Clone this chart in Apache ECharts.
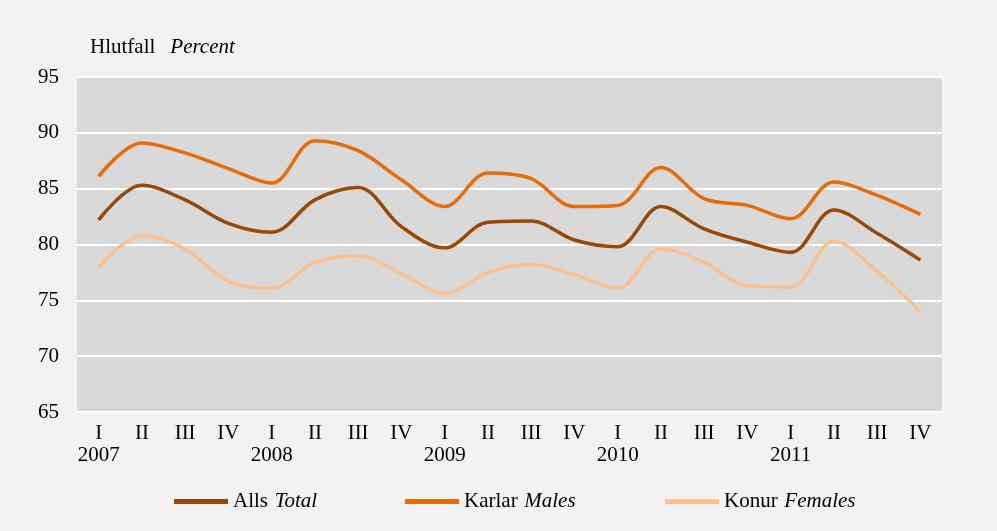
<!DOCTYPE html>
<html><head><meta charset="utf-8">
<script src="https://cdn.jsdelivr.net/npm/echarts@6/dist/echarts.min.js"></script>
<style>html,body{margin:0;padding:0;background:#fff}#c{width:997px;height:531px}</style>
</head><body><div id="c"></div>
<script>
const quarters = ['I','II','III','IV','I','II','III','IV','I','II','III','IV','I','II','III','IV','I','II','III','IV'];
const years = ['2007','','','','2008','','','','2009','','','','2010','','','','2011','','',''];
const total = [82.2,85.3,84.0,81.9,81.1,84.0,85.1,81.6,79.7,82.0,82.1,80.4,79.8,83.4,81.4,80.2,79.3,83.1,81.0,78.6];
const males = [86.1,89.1,88.2,86.8,85.5,89.3,88.4,85.8,83.4,86.4,85.9,83.4,83.5,86.9,84.1,83.5,82.3,85.6,84.4,82.7];
const females = [77.9,80.8,79.6,76.7,76.1,78.4,79.0,77.4,75.6,77.5,78.2,77.3,76.1,79.6,78.4,76.3,76.2,80.3,77.6,74.0];
const yTicks = [65,70,75,80,85,90,95];
const seriesNames = ['Alls Total','Karlar Males','Konur Females'];
const legendParts = [['Alls','Total'],['Karlar','Males'],['Konur','Females']];

const font = 'Liberation Serif, Times New Roman, serif';
const chart = echarts.init(document.getElementById('c'));
const cats = quarters.map((q,i)=> q + '\n' + years[i]);
function mk(name, data, color){
  return {name, type:'line', data, smooth:0.35, symbol:'none',
    lineStyle:{color, width:3.5}, itemStyle:{color}};
}
const rich = {a:{fontFamily:font,fontSize:21,fontWeight:'normal',color:'#000'},b:{fontFamily:font,fontSize:21,fontWeight:'normal',fontStyle:'italic',color:'#000'}};
const legendLefts = [174,405,665];
const legends = seriesNames.map((n,i)=>({
  data:[n], top:491, left:legendLefts[i], padding:0, itemWidth:54, itemHeight:5, icon:'rect', itemGap:0,
  formatter:()=>'{a|'+legendParts[i][0]+'}  {b|'+legendParts[i][1]+'}',
  textStyle:{rich}
}));
chart.setOption({
  backgroundColor:'#f2f2f2',
  animation:false,
  title:{text:'{a|Hlutfall}   {b|Percent}', left:85, top:32, textStyle:{rich}},
  grid:{left:77,right:55,top:77,bottom:119,show:true,backgroundColor:'#d9d9d9',borderWidth:0},
  xAxis:{type:'category',data:cats,boundaryGap:true,
    axisLine:{show:false},axisTick:{show:false},
    axisLabel:{fontFamily:font,fontSize:21,color:'#000',lineHeight:22,margin:10,interval:0,align:'center'}},
  yAxis:{type:'value',min:yTicks[0],max:yTicks[yTicks.length-1],interval:5,
    axisLine:{show:false},axisTick:{show:false},
    axisLabel:{fontFamily:font,fontSize:21,color:'#000',margin:18},
    splitLine:{lineStyle:{color:'#ffffff',width:2}}},
  legend:legends,
  series:[mk(seriesNames[0],total,'#984807'),mk(seriesNames[1],males,'#e46c0a'),mk(seriesNames[2],females,'#fac090')]
});
</script></body></html>
